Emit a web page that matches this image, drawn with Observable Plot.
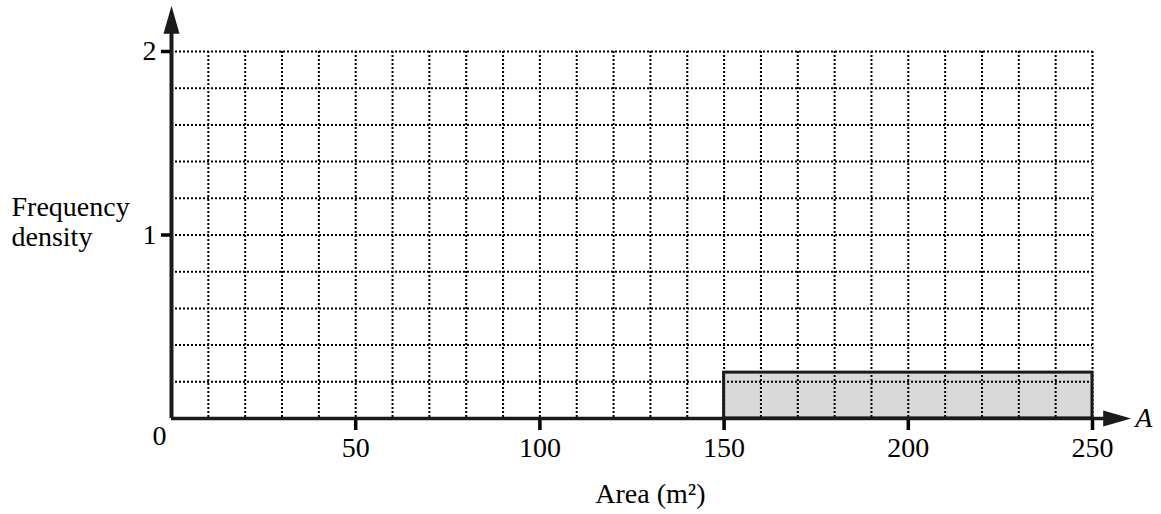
<!DOCTYPE html>
<html>
<head>
<meta charset="utf-8">
<script src="https://cdn.jsdelivr.net/npm/d3@7"></script>
<script src="https://cdn.jsdelivr.net/npm/@observablehq/plot@0.6"></script>
<style>
  html, body { margin: 0; padding: 0; background: #fff; }
  #chart { width: 1161px; height: 514px; }
</style>
</head>
<body>
<div id="chart"></div>
<script>
// Histogram data
const binStart = [150];
const binEnd = [250];
const density = [0.25];

// Tick labels
const xTicks = [50, 100, 150, 200, 250];
const yTicks = [1, 2];
const xLabel = "Area (m²)";
const yLabel = "Frequency\ndensity";
const xAxisName = "A";

// Axis extents (arrow tips)
const xArrowTip = 260.5;
const yArrowTip = 2.25;

const bins = binStart.map((s, i) => ({x1: s, x2: binEnd[i], y: density[i]}));

const arrowUp = {
  draw(ctx) {
    ctx.moveTo(0, 0);
    ctx.lineTo(-8, 28);
    ctx.lineTo(8, 28);
    ctx.closePath();
  }
};

const font = "Liberation Serif, Times New Roman, serif";
const dash = "2,2";
const fs = 28;

const chart = Plot.plot({
  width: 1161,
  height: 514,
  marginTop: 51,
  marginBottom: 96,
  marginLeft: 171,
  marginRight: 69,
  style: {fontFamily: font, fontSize: fs + "px", background: "#fff", color: "#000"},
  x: {domain: [0, 250]},
  y: {domain: [0, 2]},
  marks: [
    Plot.rectY(bins, {x1: "x1", x2: "x2", y: "y", fill: "#d9d9d9"}),
    Plot.gridX({interval: 10, stroke: "#000", strokeOpacity: 1, strokeWidth: 2, strokeDasharray: dash}),
    Plot.gridY({interval: 0.2, stroke: "#000", strokeOpacity: 1, strokeWidth: 2, strokeDasharray: dash}),
    Plot.rectY(bins, {x1: "x1", x2: "x2", y: "y", fill: "none", stroke: "#1a1a1a", strokeWidth: 3}),
    Plot.axisX({ticks: xTicks, tickFormat: (d) => String(d), tickSize: 12, tickPadding: 7, fontSize: fs, strokeWidth: 3.5, label: null, anchor: "bottom"}),
    Plot.axisY({ticks: yTicks, tickFormat: (d) => String(d), tickSize: 10, tickPadding: 5, fontSize: fs, strokeWidth: 3.5, label: null, anchor: "left"}),
    Plot.ruleY([0], {x1: 0, x2: xArrowTip - 5, stroke: "#1a1a1a", strokeWidth: 3.5}),
    Plot.ruleX([0], {y1: 0, y2: yArrowTip - 0.1, stroke: "#1a1a1a", strokeWidth: 4}),
    Plot.dot([{x: 0, y: yArrowTip}], {x: "x", y: "y", symbol: arrowUp, r: 5, fill: "#1a1a1a", stroke: "none"}),
    Plot.dot([{x: xArrowTip, y: 0}], {x: "x", y: "y", symbol: arrowUp, r: 5, fill: "#1a1a1a", stroke: "none", rotate: 90}),
    Plot.text([{x: 0, y: 0, t: "0"}], {x: "x", y: "y", text: "t", dx: -12, dy: 18, fontSize: fs}),
    Plot.text([{x: xArrowTip, y: 0, t: xAxisName}], {x: "x", y: "y", text: "t", dx: 4, dy: 0, textAnchor: "start", fontStyle: "italic", fontSize: fs}),
    Plot.text([{x: 130, y: 0, t: xLabel}], {x: "x", y: "y", text: "t", dy: 76, fontSize: fs}),
    Plot.text([{x: 0, y: 1.076, t: yLabel}], {x: "x", y: "y", text: "t", dx: -160, textAnchor: "start", lineHeight: 1.1, fontSize: fs})
  ]
});
document.getElementById("chart").appendChild(chart);
</script>
</body>
</html>
